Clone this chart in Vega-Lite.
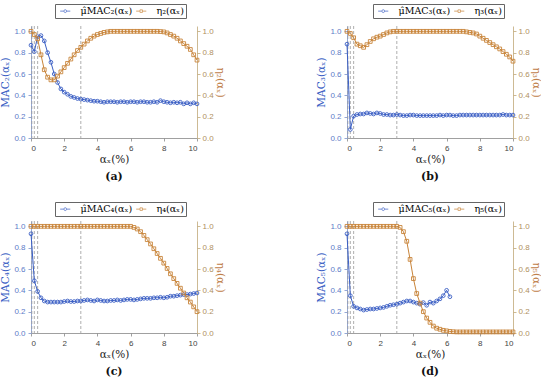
{
"$schema":"https://vega.github.io/schema/vega-lite/v6.json",
"padding":{"left":0,"top":3,"right":0,"bottom":0},
"datasets":{"d":[
{"p":"a","x":0,"m":0.87,"e":1},{"p":"a","x":0.2,"m":0.81,"e":0.97},{"p":"a","x":0.4,"m":0.95,"e":0.93},{"p":"a","x":0.6,"m":0.96,"e":0.78},{"p":"a","x":0.8,"m":0.91,"e":0.64},{"p":"a","x":1,"m":0.8,"e":0.57},{"p":"a","x":1.2,"m":0.71,"e":0.545},{"p":"a","x":1.4,"m":0.6,"e":0.545},{"p":"a","x":1.6,"m":0.52,"e":0.58},{"p":"a","x":1.8,"m":0.46,"e":0.62},{"p":"a","x":2,"m":0.43,"e":0.66},{"p":"a","x":2.2,"m":0.41,"e":0.7},{"p":"a","x":2.4,"m":0.39,"e":0.74},{"p":"a","x":2.6,"m":0.38,"e":0.78},{"p":"a","x":2.8,"m":0.37,"e":0.82},{"p":"a","x":3,"m":0.365,"e":0.85},{"p":"a","x":3.2,"m":0.36,"e":0.88},{"p":"a","x":3.4,"m":0.355,"e":0.91},{"p":"a","x":3.6,"m":0.35,"e":0.935},{"p":"a","x":3.8,"m":0.345,"e":0.955},{"p":"a","x":4,"m":0.345,"e":0.97},{"p":"a","x":4.2,"m":0.34,"e":0.98},{"p":"a","x":4.4,"m":0.335,"e":0.99},{"p":"a","x":4.6,"m":0.34,"e":0.995},{"p":"a","x":4.8,"m":0.34,"e":1},{"p":"a","x":5,"m":0.34,"e":1},{"p":"a","x":5.2,"m":0.335,"e":1},{"p":"a","x":5.4,"m":0.34,"e":1},{"p":"a","x":5.6,"m":0.34,"e":1},{"p":"a","x":5.8,"m":0.335,"e":1},{"p":"a","x":6,"m":0.34,"e":1},{"p":"a","x":6.2,"m":0.34,"e":1},{"p":"a","x":6.4,"m":0.335,"e":1},{"p":"a","x":6.6,"m":0.34,"e":1},{"p":"a","x":6.8,"m":0.34,"e":1},{"p":"a","x":7,"m":0.335,"e":1},{"p":"a","x":7.2,"m":0.335,"e":1},{"p":"a","x":7.4,"m":0.34,"e":1},{"p":"a","x":7.6,"m":0.335,"e":1},{"p":"a","x":7.8,"m":0.35,"e":0.998},{"p":"a","x":8,"m":0.34,"e":0.995},{"p":"a","x":8.2,"m":0.335,"e":0.985},{"p":"a","x":8.4,"m":0.33,"e":0.97},{"p":"a","x":8.6,"m":0.335,"e":0.955},{"p":"a","x":8.8,"m":0.33,"e":0.935},{"p":"a","x":9,"m":0.335,"e":0.91},{"p":"a","x":9.2,"m":0.32,"e":0.885},{"p":"a","x":9.4,"m":0.33,"e":0.86},{"p":"a","x":9.6,"m":0.32,"e":0.83},{"p":"a","x":9.8,"m":0.33,"e":0.78},{"p":"a","x":10,"m":0.32,"e":0.73},
{"p":"b","x":0,"m":0.88,"e":1},{"p":"b","x":0.2,"m":0.08,"e":0.98},{"p":"b","x":0.4,"m":0.205,"e":0.94},{"p":"b","x":0.6,"m":0.22,"e":0.88},{"p":"b","x":0.8,"m":0.225,"e":0.865},{"p":"b","x":1,"m":0.225,"e":0.85},{"p":"b","x":1.2,"m":0.235,"e":0.875},{"p":"b","x":1.4,"m":0.23,"e":0.905},{"p":"b","x":1.6,"m":0.225,"e":0.93},{"p":"b","x":1.8,"m":0.235,"e":0.945},{"p":"b","x":2,"m":0.23,"e":0.955},{"p":"b","x":2.2,"m":0.22,"e":0.97},{"p":"b","x":2.4,"m":0.22,"e":0.985},{"p":"b","x":2.6,"m":0.215,"e":0.995},{"p":"b","x":2.8,"m":0.215,"e":1},{"p":"b","x":3,"m":0.22,"e":1},{"p":"b","x":3.2,"m":0.215,"e":1},{"p":"b","x":3.4,"m":0.21,"e":1},{"p":"b","x":3.6,"m":0.21,"e":1},{"p":"b","x":3.8,"m":0.215,"e":1},{"p":"b","x":4,"m":0.215,"e":1},{"p":"b","x":4.2,"m":0.21,"e":1},{"p":"b","x":4.4,"m":0.21,"e":1},{"p":"b","x":4.6,"m":0.21,"e":1},{"p":"b","x":4.8,"m":0.21,"e":1},{"p":"b","x":5,"m":0.21,"e":1},{"p":"b","x":5.2,"m":0.21,"e":1},{"p":"b","x":5.4,"m":0.21,"e":1},{"p":"b","x":5.6,"m":0.215,"e":1},{"p":"b","x":5.8,"m":0.21,"e":1},{"p":"b","x":6,"m":0.215,"e":1},{"p":"b","x":6.2,"m":0.215,"e":1},{"p":"b","x":6.4,"m":0.21,"e":1},{"p":"b","x":6.6,"m":0.21,"e":1},{"p":"b","x":6.8,"m":0.215,"e":1},{"p":"b","x":7,"m":0.215,"e":1},{"p":"b","x":7.2,"m":0.215,"e":0.995},{"p":"b","x":7.4,"m":0.215,"e":0.99},{"p":"b","x":7.6,"m":0.215,"e":0.985},{"p":"b","x":7.8,"m":0.215,"e":0.975},{"p":"b","x":8,"m":0.215,"e":0.955},{"p":"b","x":8.2,"m":0.215,"e":0.935},{"p":"b","x":8.4,"m":0.215,"e":0.915},{"p":"b","x":8.6,"m":0.215,"e":0.895},{"p":"b","x":8.8,"m":0.215,"e":0.875},{"p":"b","x":9,"m":0.215,"e":0.855},{"p":"b","x":9.2,"m":0.215,"e":0.835},{"p":"b","x":9.4,"m":0.22,"e":0.81},{"p":"b","x":9.6,"m":0.215,"e":0.785},{"p":"b","x":9.8,"m":0.215,"e":0.76},{"p":"b","x":10,"m":0.215,"e":0.72},
{"p":"c","x":0,"m":0.93,"e":1},{"p":"c","x":0.2,"m":0.49,"e":1},{"p":"c","x":0.4,"m":0.39,"e":1},{"p":"c","x":0.6,"m":0.33,"e":1},{"p":"c","x":0.8,"m":0.3,"e":1},{"p":"c","x":1,"m":0.29,"e":1},{"p":"c","x":1.2,"m":0.29,"e":1},{"p":"c","x":1.4,"m":0.29,"e":1},{"p":"c","x":1.6,"m":0.29,"e":1},{"p":"c","x":1.8,"m":0.29,"e":1},{"p":"c","x":2,"m":0.295,"e":1},{"p":"c","x":2.2,"m":0.3,"e":1},{"p":"c","x":2.4,"m":0.295,"e":1},{"p":"c","x":2.6,"m":0.295,"e":1},{"p":"c","x":2.8,"m":0.3,"e":1},{"p":"c","x":3,"m":0.3,"e":1},{"p":"c","x":3.2,"m":0.305,"e":1},{"p":"c","x":3.4,"m":0.31,"e":1},{"p":"c","x":3.6,"m":0.305,"e":1},{"p":"c","x":3.8,"m":0.3,"e":1},{"p":"c","x":4,"m":0.31,"e":1},{"p":"c","x":4.2,"m":0.305,"e":1},{"p":"c","x":4.4,"m":0.3,"e":1},{"p":"c","x":4.6,"m":0.3,"e":1},{"p":"c","x":4.8,"m":0.305,"e":1},{"p":"c","x":5,"m":0.305,"e":1},{"p":"c","x":5.2,"m":0.31,"e":1},{"p":"c","x":5.4,"m":0.305,"e":1},{"p":"c","x":5.6,"m":0.31,"e":1},{"p":"c","x":5.8,"m":0.315,"e":1},{"p":"c","x":6,"m":0.315,"e":1},{"p":"c","x":6.2,"m":0.31,"e":0.99},{"p":"c","x":6.4,"m":0.315,"e":0.975},{"p":"c","x":6.6,"m":0.32,"e":0.95},{"p":"c","x":6.8,"m":0.325,"e":0.915},{"p":"c","x":7,"m":0.325,"e":0.875},{"p":"c","x":7.2,"m":0.325,"e":0.835},{"p":"c","x":7.4,"m":0.33,"e":0.79},{"p":"c","x":7.6,"m":0.33,"e":0.745},{"p":"c","x":7.8,"m":0.335,"e":0.7},{"p":"c","x":8,"m":0.33,"e":0.655},{"p":"c","x":8.2,"m":0.335,"e":0.605},{"p":"c","x":8.4,"m":0.345,"e":0.555},{"p":"c","x":8.6,"m":0.345,"e":0.51},{"p":"c","x":8.8,"m":0.35,"e":0.465},{"p":"c","x":9,"m":0.355,"e":0.42},{"p":"c","x":9.2,"m":0.36,"e":0.375},{"p":"c","x":9.4,"m":0.36,"e":0.33},{"p":"c","x":9.6,"m":0.365,"e":0.29},{"p":"c","x":9.8,"m":0.37,"e":0.245},{"p":"c","x":10,"m":0.375,"e":0.2},
{"p":"d","x":0,"m":0.93,"e":1},{"p":"d","x":0.2,"m":0.35,"e":1},{"p":"d","x":0.4,"m":0.25,"e":1},{"p":"d","x":0.6,"m":0.235,"e":1},{"p":"d","x":0.8,"m":0.225,"e":1},{"p":"d","x":1,"m":0.215,"e":1},{"p":"d","x":1.2,"m":0.22,"e":1},{"p":"d","x":1.4,"m":0.225,"e":1},{"p":"d","x":1.6,"m":0.225,"e":1},{"p":"d","x":1.8,"m":0.23,"e":1},{"p":"d","x":2,"m":0.235,"e":1},{"p":"d","x":2.2,"m":0.24,"e":1},{"p":"d","x":2.4,"m":0.25,"e":1},{"p":"d","x":2.6,"m":0.26,"e":1},{"p":"d","x":2.8,"m":0.265,"e":1},{"p":"d","x":3,"m":0.27,"e":1},{"p":"d","x":3.2,"m":0.28,"e":0.99},{"p":"d","x":3.4,"m":0.29,"e":0.95},{"p":"d","x":3.6,"m":0.3,"e":0.86},{"p":"d","x":3.8,"m":0.3,"e":0.69},{"p":"d","x":4,"m":0.29,"e":0.51},{"p":"d","x":4.2,"m":0.28,"e":0.37},{"p":"d","x":4.4,"m":0.27,"e":0.28},{"p":"d","x":4.6,"m":0.285,"e":0.2},{"p":"d","x":4.8,"m":0.26,"e":0.14},{"p":"d","x":5,"m":0.29,"e":0.1},{"p":"d","x":5.2,"m":0.28,"e":0.065},{"p":"d","x":5.4,"m":0.3,"e":0.045},{"p":"d","x":5.6,"m":0.32,"e":0.035},{"p":"d","x":5.8,"m":0.35,"e":0.025},{"p":"d","x":6,"m":0.4,"e":0.02},{"p":"d","x":6.2,"m":0.34,"e":0.015},{"p":"d","x":6.4,"e":0.012},{"p":"d","x":6.6,"e":0.01},{"p":"d","x":6.8,"e":0.01},{"p":"d","x":7,"e":0.01},{"p":"d","x":7.2,"e":0.01},{"p":"d","x":7.4,"e":0.01},{"p":"d","x":7.6,"e":0.01},{"p":"d","x":7.8,"e":0.01},{"p":"d","x":8,"e":0.01},{"p":"d","x":8.2,"e":0.01},{"p":"d","x":8.4,"e":0.01},{"p":"d","x":8.6,"e":0.01},{"p":"d","x":8.8,"e":0.01},{"p":"d","x":9,"e":0.01},{"p":"d","x":9.2,"e":0.01},{"p":"d","x":9.4,"e":0.01},{"p":"d","x":9.6,"e":0.01},{"p":"d","x":9.8,"e":0.01},{"p":"d","x":10,"e":0.01}
]},
"data":{"name":"d"},
"columns":2,
"spacing":{"row":83,"column":150},
"bounds":"flush",
"resolve":{"scale":{"color":"independent","shape":"independent"},"legend":{"color":"independent","shape":"independent"}},
"concat":[
{
"width":166,"height":112,
"title":{"text":"(a)"},
"transform":[{"filter":"datum.p==='a'"}],
"encoding":{"x":{"field":"x","type":"quantitative","scale":{"domain":[0,10],"nice":false},"axis":{"values":[0,2,4,6,8,10],"title":"αₓ(%)"}}},
"layer":[
{"data":{"values":[{"p":"a","x":0.05},{"p":"a","x":0.2},{"p":"a","x":0.4},{"p":"a","x":3}]},"mark":{"type":"rule","color":"#9a9a9a","strokeDash":[3,2],"strokeWidth":0.8},"encoding":{}},
{"mark":{"type":"line","color":"#3b5fc4","strokeWidth":1},"encoding":{"y":{"field":"m","type":"quantitative","scale":{"domain":[0,1.05],"nice":false},"axis":{"orient":"left","values":[0,0.2,0.4,0.6,0.8,1],"title":"MAC₂(αₓ)","titleColor":"#3b5fc4","labelColor":"#5b7bc8","domainColor":"#7a92cc","tickColor":"#7a92cc"}}}},
{"mark":{"type":"point","shape":"circle","color":"#3b5fc4","filled":false,"size":14,"strokeWidth":0.9,"opacity":1},"encoding":{"y":{"field":"m","type":"quantitative","scale":{"domain":[0,1.05],"nice":false},"axis":null}}},
{"mark":{"type":"line","color":"#c8843a","strokeWidth":1},"encoding":{"y":{"field":"e","type":"quantitative","scale":{"domain":[0,1.05],"nice":false},"axis":{"orient":"right","values":[0,0.2,0.4,0.6,0.8,1],"title":"η₂(αₓ)","titleColor":"#c0804a","labelColor":"#b09060","domainColor":"#c0a878","tickColor":"#c0a878","titlePadding":1,"labelPadding":2}}}},
{"mark":{"type":"point","shape":"square","color":"#c8843a","filled":false,"size":14,"strokeWidth":0.9,"opacity":1},"encoding":{"y":{"field":"e","type":"quantitative","scale":{"domain":[0,1.05],"nice":false},"axis":null}}},
{"transform":[{"filter":"false"}],"mark":{"type":"point","filled":false,"strokeWidth":1},"encoding":{"y":{"field":"e","type":"quantitative","scale":{"domain":[0,1.05],"nice":false},"axis":null},"color":{"field":"p","type":"nominal","scale":{"domain":["μ̂MAC₂(αₓ)","η₂(αₓ)"],"range":["#3b5fc4","#c8843a"]},"legend":{"title":null,"orient":"none","legendX":24,"legendY":-22,"direction":"horizontal"}},"shape":{"field":"p","type":"nominal","scale":{"domain":["μ̂MAC₂(αₓ)","η₂(αₓ)"],"range":["M-0.5,0H0.65M1.55,0H2.7M1.55,0A0.45,0.45,0,1,1,0.65,0A0.45,0.45,0,1,1,1.55,0","M-0.5,0H0.7M1.5,0H2.7M0.7,-0.4H1.5V0.4H0.7Z"]},"legend":{"title":null,"orient":"none","legendX":24,"legendY":-22,"direction":"horizontal"}}}}
],
"resolve":{"scale":{"y":"independent"}}
},
{
"width":166,"height":112,
"title":{"text":"(b)"},
"transform":[{"filter":"datum.p==='b'"}],
"encoding":{"x":{"field":"x","type":"quantitative","scale":{"domain":[0,10],"nice":false},"axis":{"values":[0,2,4,6,8,10],"title":"αₓ(%)"}}},
"layer":[
{"data":{"values":[{"p":"b","x":0.05},{"p":"b","x":0.2},{"p":"b","x":0.4},{"p":"b","x":3}]},"mark":{"type":"rule","color":"#9a9a9a","strokeDash":[3,2],"strokeWidth":0.8},"encoding":{}},
{"mark":{"type":"line","color":"#3b5fc4","strokeWidth":1},"encoding":{"y":{"field":"m","type":"quantitative","scale":{"domain":[0,1.05],"nice":false},"axis":{"orient":"left","values":[0,0.2,0.4,0.6,0.8,1],"title":"MAC₃(αₓ)","titleColor":"#3b5fc4","labelColor":"#5b7bc8","domainColor":"#7a92cc","tickColor":"#7a92cc"}}}},
{"mark":{"type":"point","shape":"circle","color":"#3b5fc4","filled":false,"size":14,"strokeWidth":0.9,"opacity":1},"encoding":{"y":{"field":"m","type":"quantitative","scale":{"domain":[0,1.05],"nice":false},"axis":null}}},
{"mark":{"type":"line","color":"#c8843a","strokeWidth":1},"encoding":{"y":{"field":"e","type":"quantitative","scale":{"domain":[0,1.05],"nice":false},"axis":{"orient":"right","values":[0,0.2,0.4,0.6,0.8,1],"title":"η₃(αₓ)","titleColor":"#c0804a","labelColor":"#b09060","domainColor":"#c0a878","tickColor":"#c0a878","titlePadding":1,"labelPadding":2}}}},
{"mark":{"type":"point","shape":"square","color":"#c8843a","filled":false,"size":14,"strokeWidth":0.9,"opacity":1},"encoding":{"y":{"field":"e","type":"quantitative","scale":{"domain":[0,1.05],"nice":false},"axis":null}}},
{"transform":[{"filter":"false"}],"mark":{"type":"point","filled":false,"strokeWidth":1},"encoding":{"y":{"field":"e","type":"quantitative","scale":{"domain":[0,1.05],"nice":false},"axis":null},"color":{"field":"p","type":"nominal","scale":{"domain":["μ̂MAC₃(αₓ)","η₃(αₓ)"],"range":["#3b5fc4","#c8843a"]},"legend":{"title":null,"orient":"none","legendX":26,"legendY":-22,"direction":"horizontal"}},"shape":{"field":"p","type":"nominal","scale":{"domain":["μ̂MAC₃(αₓ)","η₃(αₓ)"],"range":["M-0.5,0H0.65M1.55,0H2.7M1.55,0A0.45,0.45,0,1,1,0.65,0A0.45,0.45,0,1,1,1.55,0","M-0.5,0H0.7M1.5,0H2.7M0.7,-0.4H1.5V0.4H0.7Z"]},"legend":{"title":null,"orient":"none","legendX":26,"legendY":-22,"direction":"horizontal"}}}}
],
"resolve":{"scale":{"y":"independent"}}
},
{
"width":166,"height":112,
"title":{"text":"(c)"},
"transform":[{"filter":"datum.p==='c'"}],
"encoding":{"x":{"field":"x","type":"quantitative","scale":{"domain":[0,10],"nice":false},"axis":{"values":[0,2,4,6,8,10],"title":"αₓ(%)"}}},
"layer":[
{"data":{"values":[{"p":"c","x":0.05},{"p":"c","x":0.2},{"p":"c","x":0.4},{"p":"c","x":3}]},"mark":{"type":"rule","color":"#9a9a9a","strokeDash":[3,2],"strokeWidth":0.8},"encoding":{}},
{"mark":{"type":"line","color":"#3b5fc4","strokeWidth":1},"encoding":{"y":{"field":"m","type":"quantitative","scale":{"domain":[0,1.05],"nice":false},"axis":{"orient":"left","values":[0,0.2,0.4,0.6,0.8,1],"title":"MAC₄(αₓ)","titleColor":"#3b5fc4","labelColor":"#5b7bc8","domainColor":"#7a92cc","tickColor":"#7a92cc"}}}},
{"mark":{"type":"point","shape":"circle","color":"#3b5fc4","filled":false,"size":14,"strokeWidth":0.9,"opacity":1},"encoding":{"y":{"field":"m","type":"quantitative","scale":{"domain":[0,1.05],"nice":false},"axis":null}}},
{"mark":{"type":"line","color":"#c8843a","strokeWidth":1},"encoding":{"y":{"field":"e","type":"quantitative","scale":{"domain":[0,1.05],"nice":false},"axis":{"orient":"right","values":[0,0.2,0.4,0.6,0.8,1],"title":"η₄(αₓ)","titleColor":"#c0804a","labelColor":"#b09060","domainColor":"#c0a878","tickColor":"#c0a878","titlePadding":1,"labelPadding":2}}}},
{"mark":{"type":"point","shape":"square","color":"#c8843a","filled":false,"size":14,"strokeWidth":0.9,"opacity":1},"encoding":{"y":{"field":"e","type":"quantitative","scale":{"domain":[0,1.05],"nice":false},"axis":null}}},
{"transform":[{"filter":"false"}],"mark":{"type":"point","filled":false,"strokeWidth":1},"encoding":{"y":{"field":"e","type":"quantitative","scale":{"domain":[0,1.05],"nice":false},"axis":null},"color":{"field":"p","type":"nominal","scale":{"domain":["μ̂MAC₄(αₓ)","η₄(αₓ)"],"range":["#3b5fc4","#c8843a"]},"legend":{"title":null,"orient":"none","legendX":24,"legendY":-19,"direction":"horizontal"}},"shape":{"field":"p","type":"nominal","scale":{"domain":["μ̂MAC₄(αₓ)","η₄(αₓ)"],"range":["M-0.5,0H0.65M1.55,0H2.7M1.55,0A0.45,0.45,0,1,1,0.65,0A0.45,0.45,0,1,1,1.55,0","M-0.5,0H0.7M1.5,0H2.7M0.7,-0.4H1.5V0.4H0.7Z"]},"legend":{"title":null,"orient":"none","legendX":24,"legendY":-19,"direction":"horizontal"}}}}
],
"resolve":{"scale":{"y":"independent"}}
},
{
"width":166,"height":112,
"title":{"text":"(d)"},
"transform":[{"filter":"datum.p==='d'"}],
"encoding":{"x":{"field":"x","type":"quantitative","scale":{"domain":[0,10],"nice":false},"axis":{"values":[0,2,4,6,8,10],"title":"αₓ(%)"}}},
"layer":[
{"data":{"values":[{"p":"d","x":0.05},{"p":"d","x":0.2},{"p":"d","x":0.4},{"p":"d","x":3}]},"mark":{"type":"rule","color":"#9a9a9a","strokeDash":[3,2],"strokeWidth":0.8},"encoding":{}},
{"mark":{"type":"line","color":"#3b5fc4","strokeWidth":1},"encoding":{"y":{"field":"m","type":"quantitative","scale":{"domain":[0,1.05],"nice":false},"axis":{"orient":"left","values":[0,0.2,0.4,0.6,0.8,1],"title":"MAC₅(αₓ)","titleColor":"#3b5fc4","labelColor":"#5b7bc8","domainColor":"#7a92cc","tickColor":"#7a92cc"}}}},
{"mark":{"type":"point","shape":"circle","color":"#3b5fc4","filled":false,"size":14,"strokeWidth":0.9,"opacity":1},"encoding":{"y":{"field":"m","type":"quantitative","scale":{"domain":[0,1.05],"nice":false},"axis":null}}},
{"mark":{"type":"line","color":"#c8843a","strokeWidth":1},"encoding":{"y":{"field":"e","type":"quantitative","scale":{"domain":[0,1.05],"nice":false},"axis":{"orient":"right","values":[0,0.2,0.4,0.6,0.8,1],"title":"η₅(αₓ)","titleColor":"#c0804a","labelColor":"#b09060","domainColor":"#c0a878","tickColor":"#c0a878","titlePadding":1,"labelPadding":2}}}},
{"mark":{"type":"point","shape":"square","color":"#c8843a","filled":false,"size":14,"strokeWidth":0.9,"opacity":1},"encoding":{"y":{"field":"e","type":"quantitative","scale":{"domain":[0,1.05],"nice":false},"axis":null}}},
{"transform":[{"filter":"false"}],"mark":{"type":"point","filled":false,"strokeWidth":1},"encoding":{"y":{"field":"e","type":"quantitative","scale":{"domain":[0,1.05],"nice":false},"axis":null},"color":{"field":"p","type":"nominal","scale":{"domain":["μ̂MAC₅(αₓ)","η₅(αₓ)"],"range":["#3b5fc4","#c8843a"]},"legend":{"title":null,"orient":"none","legendX":26,"legendY":-19,"direction":"horizontal"}},"shape":{"field":"p","type":"nominal","scale":{"domain":["μ̂MAC₅(αₓ)","η₅(αₓ)"],"range":["M-0.5,0H0.65M1.55,0H2.7M1.55,0A0.45,0.45,0,1,1,0.65,0A0.45,0.45,0,1,1,1.55,0","M-0.5,0H0.7M1.5,0H2.7M0.7,-0.4H1.5V0.4H0.7Z"]},"legend":{"title":null,"orient":"none","legendX":26,"legendY":-19,"direction":"horizontal"}}}}
],
"resolve":{"scale":{"y":"independent"}}
}
],
"config":{
"view":{"stroke":null},
"axis":{"grid":false,"labelFont":"Liberation Sans","labelFontSize":8,"titleFont":"DejaVu Serif","titleFontSize":10.5,"titleFontWeight":"normal","tickSize":3,"domainWidth":0.8,"tickWidth":0.8,"labelPadding":3,"titlePadding":3},
"axisX":{"labelColor":"#444","domainColor":"#888","tickColor":"#888","titleColor":"#222","titlePadding":2},
"legend":{"strokeColor":"#666","padding":2,"labelFont":"DejaVu Serif","labelFontSize":9.5,"symbolSize":40,"symbolStrokeWidth":1,"columnPadding":0,"labelOffset":14,"fillColor":"white"},
"title":{"orient":"bottom","font":"DejaVu Serif","fontSize":11,"fontWeight":"bold","color":"#111","offset":6,"anchor":"middle"}
}
}
